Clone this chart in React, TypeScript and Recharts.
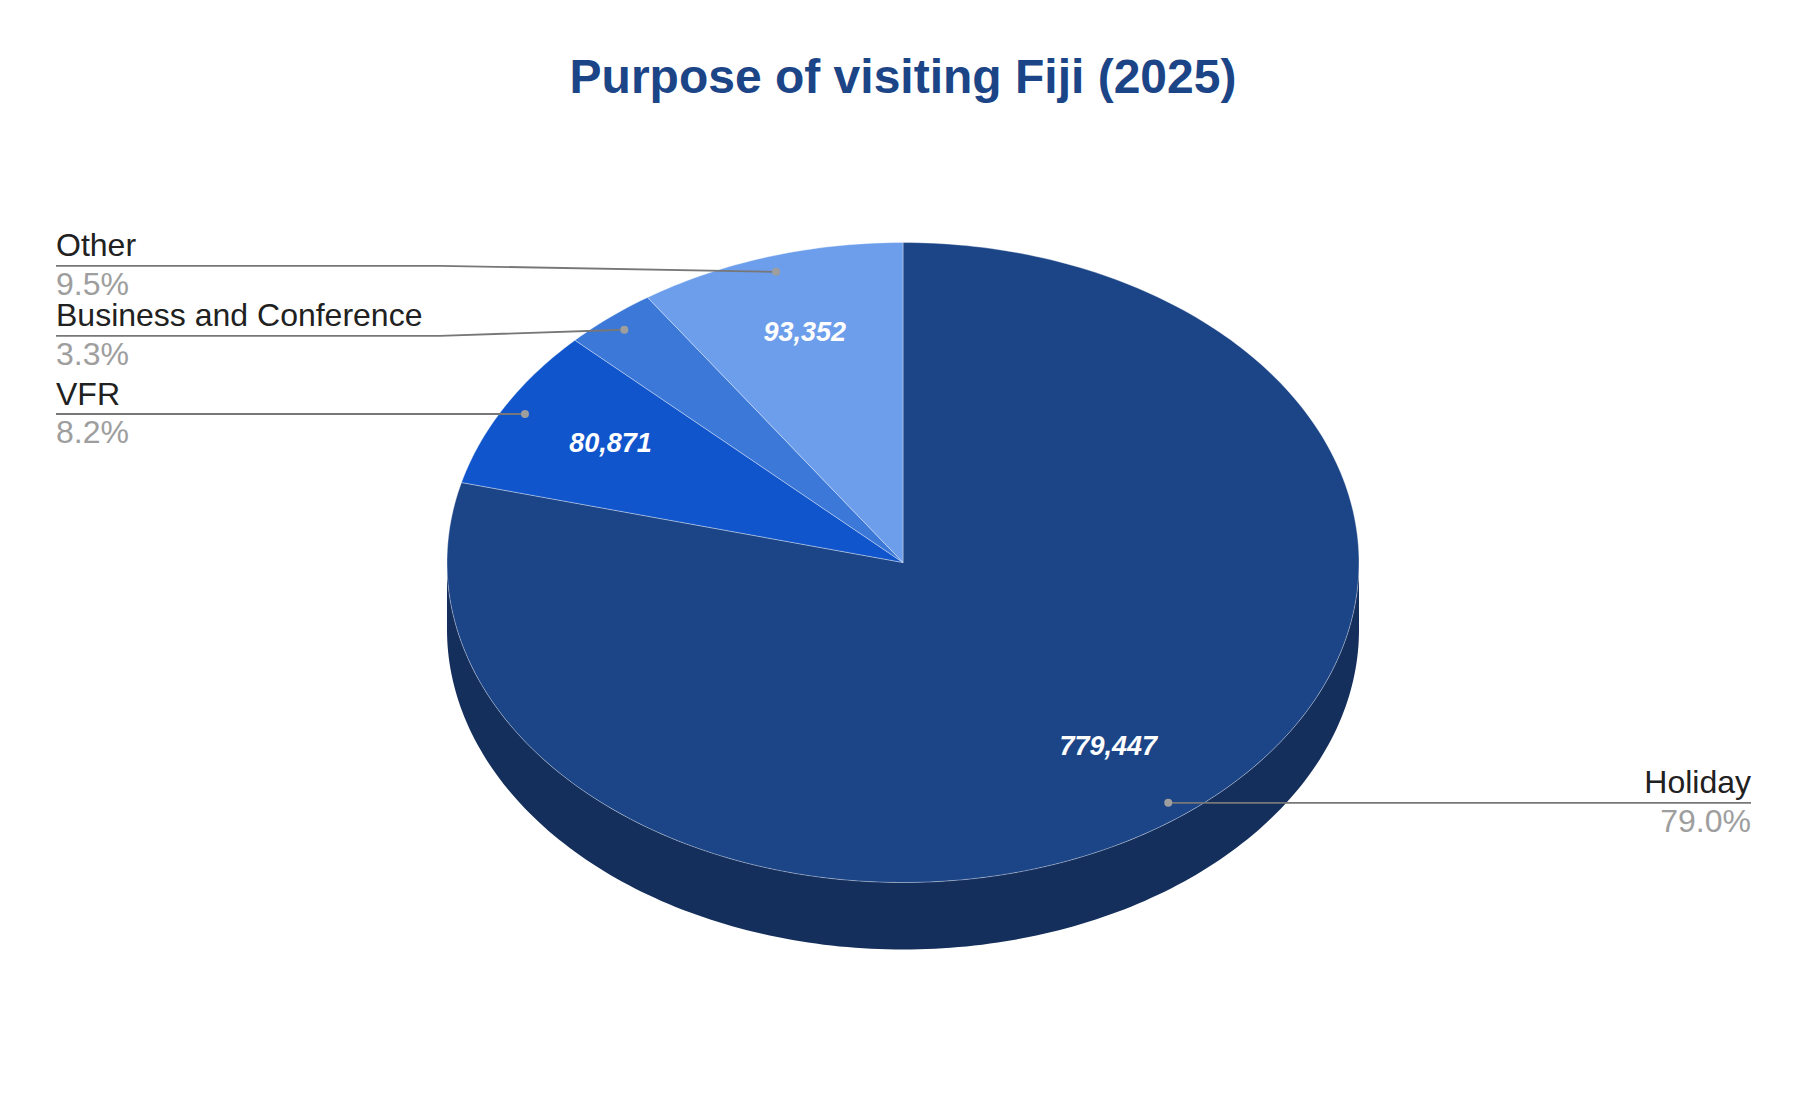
import React from 'react';
import { PieChart, Pie, Cell } from 'recharts';

// Purpose of visit, 2025 (visitor arrivals)
const categories = ['Holiday', 'VFR', 'Business and Conference', 'Other'];
const visitors = [779447, 80871, 32700, 93352];

const topColors = ['#1c4587', '#1155cc', '#3c78d8', '#6d9eeb'];
const sideColors = ['#152f5c', '#0d3f99', '#2d5aa3', '#5177b0'];

const rows = categories.map((name, i) => ({ name, value: visitors[i] }));

const W = 1806;
const H = 1108;
const CX = 903;
const CY = 562.5;
const RADIUS = 456;
const SQUASH = 320 / 456; // vertical flattening of the tilted pie
const DEPTH = 67;
const RAD = Math.PI / 180;
const FONT = "Arial, 'Liberation Sans', sans-serif";

const ellPoint = (cx: number, cy: number, r: number, deg: number, drop = 0) => [
  cx + r * Math.cos(deg * RAD),
  cy - r * SQUASH * Math.sin(deg * RAD) + drop,
];

const arc = (cx: number, cy: number, r: number, a: number, b: number, drop = 0) => {
  const n = Math.max(2, Math.ceil(Math.abs(b - a)));
  const pts: number[][] = [];
  for (let i = 0; i <= n; i++) pts.push(ellPoint(cx, cy, r, a + ((b - a) * i) / n, drop));
  return pts;
};

const toPath = (pts: number[][]) =>
  pts.map((p, i) => `${i ? 'L' : 'M'}${p[0].toFixed(2)},${p[1].toFixed(2)}`).join('');

// leader label rows: spread apart so the stacked labels don't collide
const GAP = 70;
const spread = (ys: number[]) => {
  let cl = ys.map((y) => ({ ys: [y] }));
  const pos = (c: { ys: number[] }) => {
    const m = c.ys.reduce((s, v) => s + v, 0) / c.ys.length;
    return c.ys.map((_, j) => m + (j - (c.ys.length - 1) / 2) * GAP);
  };
  let merged = true;
  while (merged) {
    merged = false;
    for (let j = 0; j < cl.length - 1; j++) {
      const a = pos(cl[j]);
      const b = pos(cl[j + 1]);
      if (a[a.length - 1] + GAP > b[0]) {
        cl.splice(j, 2, { ys: [...cl[j].ys, ...cl[j + 1].ys] });
        merged = true;
        break;
      }
    }
  }
  return cl.flatMap(pos);
};

const total = visitors.reduce((s, v) => s + v, 0);
const leaderY: number[] = (() => {
  let cum = 0;
  const items = visitors.map((v, i) => {
    const mid = 90 - ((cum + v / 2) / total) * 360;
    cum += v;
    return {
      i,
      y: CY - 0.95 * RADIUS * SQUASH * Math.sin(mid * RAD),
      left: Math.cos(mid * RAD) < 0,
    };
  });
  const out: number[] = [];
  [true, false].forEach((side) => {
    const group = items.filter((d) => d.left === side).sort((a, b) => a.y - b.y);
    const ys = spread(group.map((d) => d.y));
    group.forEach((d, j) => (out[d.i] = ys[j]));
  });
  return out;
})();

const Slice3D = (props: any) => {
  const { cx, cy, outerRadius, startAngle, endAngle, name } = props;
  const idx = categories.indexOf(name);
  const lo = Math.min(startAngle, endAngle);
  const hi = Math.max(startAngle, endAngle);
  const walls: string[] = [];
  [-1, 0, 1].forEach((k) => {
    const a = Math.max(lo, -180 + 360 * k);
    const b = Math.min(hi, 360 * k);
    if (b > a) {
      const top = arc(cx, cy, outerRadius, a, b);
      const bottom = arc(cx, cy, outerRadius, b, a, DEPTH);
      walls.push(toPath([...top, ...bottom]) + 'Z');
    }
  });
  const face = `M${cx},${cy}` + toPath(arc(cx, cy, outerRadius, lo, hi)).replace(/^M/, 'L') + 'Z';
  return (
    <g>
      {walls.map((d, i) => (
        <path key={i} d={d} fill={sideColors[idx]} />
      ))}
      <path d={face} fill={topColors[idx]} stroke="rgba(255,255,255,0.35)" strokeWidth={1} />
    </g>
  );
};

const renderLabel = (props: any) => {
  const { cx, cy, outerRadius, midAngle, percent, value, name } = props;
  const idx = categories.indexOf(name);
  const cos = Math.cos(midAngle * RAD);
  const sin = Math.sin(midAngle * RAD);
  const vx = cx + 0.735 * outerRadius * cos;
  const vy = cy - 0.74 * outerRadius * SQUASH * sin - 4;
  const dx = cx + 0.95 * outerRadius * cos;
  const dy = cy - 0.95 * outerRadius * SQUASH * sin;
  const left = cos < 0;
  const ly = leaderY[idx];
  const textX = left ? 56 : 1751;
  const elbowX = left ? 440 : W - 440;
  const line = left
    ? `M${textX},${ly}L${elbowX},${ly}L${dx},${dy}`
    : `M${dx},${dy}L${Math.max(elbowX, dx)},${ly}L${textX},${ly}`;
  return (
    <g>
      {percent >= 0.05 && (
        <text
          x={vx}
          y={vy}
          textAnchor="middle"
          dominantBaseline="central"
          fill="#ffffff"
          fontSize={27}
          fontWeight="bold"
          fontStyle="italic"
          fontFamily={FONT}
        >
          {value.toLocaleString('en-US')}
        </text>
      )}
      <path d={line} fill="none" stroke="#777777" strokeWidth={1.8} />
      <circle cx={dx} cy={dy} r={4} fill="#9e9e9e" />
      <text x={textX} y={ly - 9.5} textAnchor={left ? 'start' : 'end'} fill="#212121" fontSize={32} fontFamily={FONT}>
        {name}
      </text>
      <text x={textX} y={ly + 29} textAnchor={left ? 'start' : 'end'} fill="#9e9e9e" fontSize={32} fontFamily={FONT}>
        {`${(percent * 100).toFixed(1)}%`}
      </text>
    </g>
  );
};

const App: React.FC = () => {
  return (
    <div style={{ position: 'absolute', left: 0, top: 0, width: W, height: H, background: '#ffffff', fontFamily: FONT }}>
      <div
        style={{
          position: 'absolute',
          left: 0,
          top: 53,
          width: W,
          textAlign: 'center',
          fontSize: 48,
          lineHeight: '48px',
          fontWeight: 'bold',
          color: '#1c4587',
        }}
      >
        Purpose of visiting Fiji (2025)
      </div>
      <PieChart width={W} height={H} margin={{ top: 0, right: 0, bottom: 0, left: 0 }}>
        <Pie
          data={rows}
          dataKey="value"
          nameKey="name"
          cx={CX}
          cy={CY}
          outerRadius={RADIUS}
          startAngle={90}
          endAngle={-270}
          stroke="none"
          shape={Slice3D}
          label={renderLabel}
          labelLine={false}
          isAnimationActive={false}
        >
          {rows.map((r, i) => (
            <Cell key={r.name} fill={topColors[i]} />
          ))}
        </Pie>
      </PieChart>
    </div>
  );
};

export default App;
